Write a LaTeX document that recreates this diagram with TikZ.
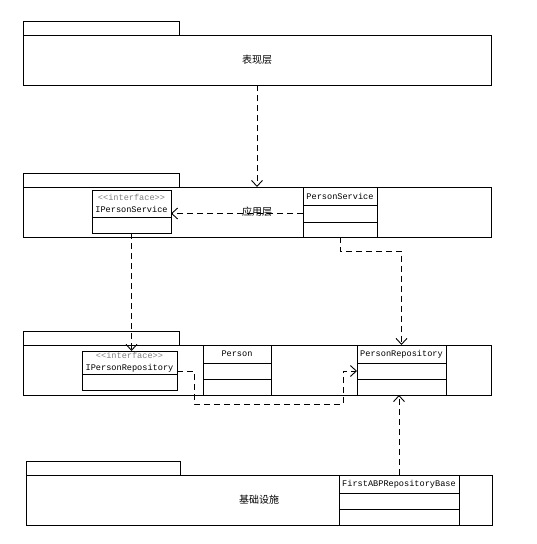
\documentclass[tikz,border=0pt]{standalone}
\usepackage{fontspec}
\newfontfamily\cjk{Noto Sans CJK SC}
\newfontfamily\mono{Liberation Mono}
\usetikzlibrary{arrows.meta, positioning, calc}

\tikzset{
  pkg/.style={draw, line width=0.9pt, anchor=north west, inner sep=0pt, outer sep=0pt,
    minimum width=468pt, minimum height=50pt, font=\cjk\fontsize{10}{12}\selectfont},
  pkgtab/.style={draw, line width=0.9pt, anchor=south west, inner sep=0pt, outer sep=0pt,
    minimum width=155pt, minimum height=14pt},
  cls/.style={draw, line width=0.9pt, anchor=north west, inner sep=0pt, outer sep=0pt,
    fill=white, align=center, font=\mono\fontsize{8.6}{12.5}\selectfont},
  cpart/.style={draw, line width=0.9pt, inner sep=0pt, outer sep=0pt, fill=white,
    below=0pt of #1},
  dep/.style={->, line width=0.9pt, dash pattern=on 6pt off 4pt}
}
\newcommand{\stereo}{{\color{gray}<\kern0pt<interface>\kern0pt>}}

\begin{document}
\begin{tikzpicture}[x=1pt, y=-1pt, >={Straight Barb[length=6pt,width=11pt]}]
  \useasboundingbox (0,0) rectangle (537,544);
  % --- presentation layer ---
  \node[pkg] (pres) at (23,35) {表现层};
  \node[pkgtab, minimum width=156pt] (prestab) at (pres.north west) {};
  % --- application layer ---
  \node[pkg] (app) at (23,187) {应用层};
  \node[pkgtab, minimum width=156pt] (apptab) at (app.north west) {};
  \node[cls, minimum width=79pt, minimum height=27pt] (isvc) at (92,190)
    {\stereo\\IPersonService};
  \node[cpart=isvc, minimum width=79pt, minimum height=16pt] (isvc1) {};
  \node[cls, minimum width=74pt, minimum height=18pt] (psvc) at (303,187) {PersonService};
  \node[cpart=psvc, minimum width=74pt, minimum height=17pt] (psvc1) {};
  \node[cpart=psvc1, minimum width=74pt, minimum height=15pt] (psvc2) {};
  % --- domain layer ---
  \node[pkg] (dom) at (23,345) {};
  \node[pkgtab, minimum width=156pt] (domtab) at (dom.north west) {};
  \node[cls, minimum width=95pt, minimum height=23pt] (irepo) at (82,351)
    {\stereo\\IPersonRepository};
  \node[cpart=irepo, minimum width=95pt, minimum height=16pt] (irepo1) {};
  \node[cls, minimum width=68pt, minimum height=18pt] (person) at (203,345) {Person};
  \node[cpart=person, minimum width=68pt, minimum height=16pt] (person1) {};
  \node[cpart=person1, minimum width=68pt, minimum height=16pt] (person2) {};
  \node[cls, minimum width=89pt, minimum height=18pt] (prepo) at (357,345) {PersonRepository};
  \node[cpart=prepo, minimum width=89pt, minimum height=16pt] (prepo1) {};
  \node[cpart=prepo1, minimum width=89pt, minimum height=16pt] (prepo2) {};
  % --- infrastructure layer ---
  \node[pkg, minimum width=466pt] (infra) at (26,475) {基础设施};
  \node[pkgtab, minimum width=154pt] (infratab) at (infra.north west) {};
  \node[cls, minimum width=120pt, minimum height=18pt] (fabp) at (339,475) {FirstABPRepositoryBase};
  \node[cpart=fabp, minimum width=120pt, minimum height=16pt] (fabp1) {};
  \node[cpart=fabp1, minimum width=120pt, minimum height=16pt] (fabp2) {};
  % dependencies
  \draw[dep] (pres.south) -- (app.north);
  \draw[dep] (psvc1.west) -- (isvc.east |- psvc1.west);
  \draw[dep] (isvc1.south) -- (isvc1.south |- irepo.north);
  \draw[dep] (psvc2.south) -- ++(0,14) -| (prepo.north);
  \draw[dep] (irepo.east |- prepo1.west) -- ++(17,0) -- ++(0,33)
    -| ($(prepo1.west)+(-14,0)$) -- (prepo1.west);
  \draw[dep] (fabp.north) -- (fabp.north |- prepo2.south);
\end{tikzpicture}
\end{document}
